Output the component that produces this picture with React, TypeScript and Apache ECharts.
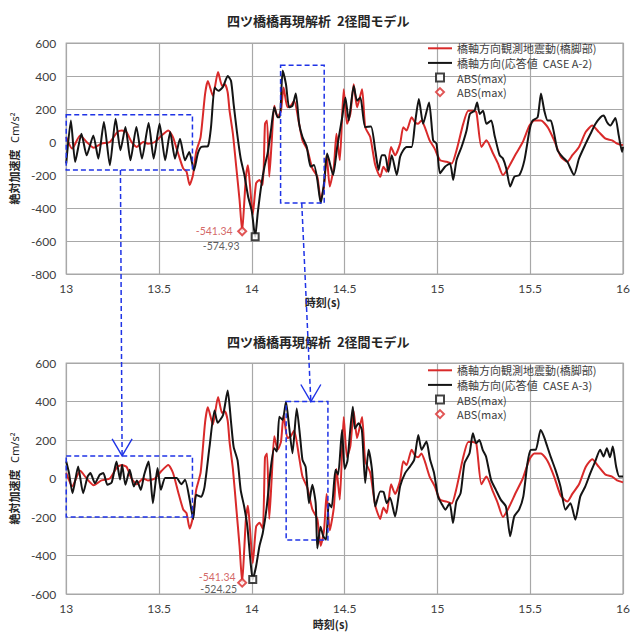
import { useEffect, useRef } from "react";
import * as echarts from "echarts";

// ---- labels -------------------------------------------------------------
const TITLE = "四ツ橋橋再現解析  2径間モデル";
const OBS_NAME = "橋軸方向観測地震動(橋脚部)";
const RESP_A2_NAME = "橋軸方向(応答値  CASE A-2)";
const RESP_A3_NAME = "橋軸方向(応答値  CASE A-3)";
const PEAK_TEXT = "ABS(max)";
const X_NAME = "時刻(s)";
const Y_NAME = "{a|絶対加速度}  {b|Cm/s²}";

// ---- axes ---------------------------------------------------------------
const X_MIN = 13;
const X_MAX = 16;
const X_STEP = 0.5;
const TOP_Y_RANGE = [-800, 600];
const BOTTOM_Y_RANGE = [-600, 600];
const Y_STEP = 200;

// ---- observed ground motion at the pier (same record in both panels) ----
const observedWave: [number, number][] = [
  [13.0, 30], [13.032, -40], [13.075, 40], [13.11, 0], [13.148, -35], [13.19, -10],
  [13.235, 0], [13.275, 60], [13.3, 70], [13.325, 60], [13.352, 0], [13.38, -30],
  [13.415, 0], [13.44, -10], [13.478, 0], [13.514, 40], [13.55, 70], [13.575, 30],
  [13.603, -70], [13.63, -160], [13.648, -180], [13.665, -260], [13.683, -200],
  [13.7, -60], [13.724, 30], [13.748, 290], [13.763, 370], [13.79, 280], [13.818, 424],
  [13.84, 340], [13.855, 350], [13.87, 300], [13.88, 190], [13.898, 50], [13.916, -150],
  [13.934, -353], [13.948, -541.34], [13.96, -353], [13.968, -212], [13.979, -141],
  [13.99, -260], [14.005, -440], [14.023, -250], [14.041, -230], [14.059, -260],
  [14.071, 110], [14.082, 130], [14.094, -210], [14.107, 0], [14.121, 220], [14.139, 150],
  [14.157, 190], [14.171, 330], [14.192, 210], [14.21, 220], [14.228, 250], [14.255, 110],
  [14.273, 10], [14.3, -50], [14.326, -160], [14.353, -210], [14.371, -350], [14.389, -270],
  [14.403, -80], [14.42, -270], [14.442, -150], [14.456, 50], [14.474, -110], [14.495, 320],
  [14.513, 110], [14.531, 170], [14.549, 350], [14.567, 210], [14.594, 320], [14.611, 90],
  [14.638, 30], [14.665, -140], [14.692, -210], [14.709, -150], [14.727, -180], [14.75, -30],
  [14.772, -80], [14.799, -10], [14.816, 90], [14.834, 70], [14.861, 150], [14.879, 120],
  [14.896, 110], [14.914, 130], [14.932, 90], [14.958, 10], [14.985, -40], [15.014, -110],
  [15.05, -120], [15.077, -130], [15.103, -50], [15.139, 110], [15.166, 190], [15.192, 190],
  [15.21, 180], [15.237, -30], [15.264, 10], [15.3, -70], [15.326, -130], [15.353, -200],
  [15.38, -160], [15.424, -70], [15.46, 0], [15.496, 100], [15.522, 130], [15.558, 130],
  [15.594, 90], [15.629, 10], [15.665, -90], [15.7, -120], [15.727, -80], [15.763, -30],
  [15.799, 60], [15.834, 100], [15.87, 60], [15.906, 20], [15.941, 10], [15.968, -10],
  [16.0, -20],
];

// ---- computed response, CASE A-2 ----------------------------------------
const responseA2: [number, number][] = [
  [13.0, -130], [13.025, 131], [13.048, -121], [13.082, 50], [13.11, -81], [13.146, 40],
  [13.173, -101], [13.203, 121], [13.235, -141], [13.266, 141], [13.292, -50], [13.319, 91],
  [13.346, -111], [13.378, 91], [13.408, -101], [13.444, 115], [13.471, -101], [13.503, 111],
  [13.533, -111], [13.56, 61], [13.586, -101], [13.613, 20], [13.64, -111], [13.663, -60],
  [13.688, -172], [13.709, -70], [13.727, -30], [13.763, -26], [13.78, 90], [13.8, 330],
  [13.82, 310], [13.845, 335], [13.87, 400], [13.888, 370], [13.902, 230], [13.92, 60],
  [13.94, -100], [13.96, -200], [13.98, -330], [14.0, -420], [14.018, -574.93], [14.032, -430],
  [14.05, -270], [14.068, -150], [14.085, -70], [14.103, 70], [14.121, 210], [14.139, 150],
  [14.151, 150], [14.166, 434], [14.184, 350], [14.201, 210], [14.219, 220], [14.237, 294],
  [14.255, 110], [14.273, 30], [14.296, -30], [14.317, -150], [14.335, -140], [14.353, -230],
  [14.371, -370], [14.389, -250], [14.406, -70], [14.438, -200], [14.46, -30], [14.487, 150],
  [14.504, 270], [14.522, 130], [14.549, 340], [14.567, 250], [14.585, 270], [14.611, 90],
  [14.642, 94], [14.665, -50], [14.683, -170], [14.7, -80], [14.718, -80], [14.736, -180],
  [14.754, -80], [14.781, -200], [14.799, -90], [14.816, -50], [14.834, -30], [14.861, -30],
  [14.879, 110], [14.9, 260], [14.923, 110], [14.955, 240], [14.977, 10], [14.995, -10],
  [15.014, -190], [15.041, -150], [15.068, -130], [15.085, -230], [15.103, -110], [15.13, -30],
  [15.157, 70], [15.175, 170], [15.2, 190], [15.214, 240], [15.228, 170], [15.246, 190],
  [15.264, 110], [15.29, 130], [15.308, 40], [15.335, -80], [15.353, -100], [15.371, -160],
  [15.392, -270], [15.415, -210], [15.442, -200], [15.469, -110], [15.496, 70], [15.513, 130],
  [15.54, 150], [15.558, 294], [15.576, 190], [15.594, 130], [15.611, 130], [15.629, 50],
  [15.647, -50], [15.674, -90], [15.7, -120], [15.736, -200], [15.763, -100], [15.799, -10],
  [15.825, 50], [15.852, 110], [15.879, 150], [15.896, 160], [15.914, 120], [15.932, 100],
  [15.959, 146], [15.977, 40], [15.995, -60], [16.0, -30],
];

// ---- computed response, CASE A-3 ----------------------------------------
const responseA3: [number, number][] = [
  [13.0, 88], [13.015, 28], [13.034, -76], [13.064, 62], [13.091, -76], [13.115, 10],
  [13.13, 28], [13.155, -25], [13.18, 19], [13.2, 28], [13.222, -33], [13.245, -20],
  [13.271, 88], [13.29, -5], [13.301, 71], [13.319, -33], [13.342, 45], [13.364, -41],
  [13.381, -10], [13.402, -59], [13.42, 20], [13.444, 88], [13.467, -128], [13.48, -30],
  [13.492, 54], [13.51, -59], [13.533, 2], [13.56, 2], [13.595, 2], [13.62, -30],
  [13.64, -7], [13.665, -110], [13.684, -210], [13.7, -85], [13.727, -95], [13.745, -45],
  [13.772, 164], [13.799, 353], [13.816, 290], [13.845, 330], [13.87, 457], [13.888, 293],
  [13.902, 164], [13.923, 95], [13.94, -60], [13.959, -147], [13.976, -250], [13.992, -422],
  [14.005, -524.25], [14.023, -456], [14.041, -352], [14.059, -283], [14.08, -150], [14.103, 62],
  [14.121, 157], [14.135, 140], [14.148, 321], [14.166, 304], [14.184, 399], [14.201, 269],
  [14.219, 131], [14.242, 364], [14.26, 218], [14.273, 97], [14.29, 60], [14.308, -128],
  [14.326, -33], [14.344, -128], [14.353, -363], [14.37, -250], [14.385, -300], [14.4, -318],
  [14.415, -130], [14.43, -150], [14.451, 45], [14.465, 20], [14.486, 252], [14.5, 50],
  [14.515, 90], [14.544, 373], [14.555, 260], [14.575, 287], [14.593, 252], [14.611, -24],
  [14.629, 149], [14.647, 50], [14.665, -145], [14.692, -67], [14.71, -70], [14.727, -128],
  [14.745, -100], [14.772, -197], [14.799, -41], [14.826, 28], [14.852, 62], [14.875, 97],
  [14.897, 226], [14.915, 149], [14.941, 192], [14.96, 100], [14.982, 28], [15.003, -93],
  [15.021, -128], [15.043, -162], [15.066, -128], [15.084, -231], [15.102, -120], [15.125, -76],
  [15.146, 79], [15.173, 131], [15.191, 235], [15.209, 183], [15.226, 200], [15.244, 149],
  [15.262, 114], [15.289, -7], [15.315, -59], [15.342, -111], [15.369, -145], [15.392, -300],
  [15.414, -197], [15.44, -162], [15.463, -93], [15.485, 79], [15.503, 149], [15.53, 150],
  [15.556, 252], [15.574, 218], [15.592, 166], [15.61, 114], [15.636, 45], [15.663, -41],
  [15.69, -162], [15.717, -128], [15.743, -214], [15.77, -93], [15.797, -41], [15.824, 28],
  [15.85, 88], [15.877, 149], [15.895, 114], [15.913, 157], [15.93, 110], [15.945, 166],
  [15.963, 62], [15.98, 10], [16.0, 10],
];

// ---- absolute maxima ----------------------------------------------------
const observedPeak: [number, number] = [13.948, -541.34];
const responseA2Peak: [number, number] = [14.018, -574.93];
const responseA3Peak: [number, number] = [14.005, -524.25];

// ---- highlighted windows [t0, t1, vLow, vHigh] and their links ------------
const topWindows: [number, number, number, number][] = [
  [13.0, 13.68, -170, 165],
  [14.155, 14.39, -370, 465],
];
const bottomWindows: [number, number, number, number][] = [
  [13.0, 13.68, -200, 117],
  [14.185, 14.41, -320, 400],
];
// [tTop, vTop] on the upper panel → [tBottom, vBottom] on the lower panel
const windowLinks: [[number, number], [number, number]][] = [
  [[13.292, -170], [13.301, 117]],
  [[14.269, -370], [14.318, 400]],
];

const RED = "#d92a2a";
const BLACK = "#141414";
const BLUE = "#1f33e6";
const GRID_GRAY = "#a8a8a8";
const TEXT_GRAY = "#404040";
const JP_FONT = "'Noto Sans CJK JP', sans-serif";
const NUM_FONT = "Lato, 'Noto Sans', sans-serif";

// legend glyphs: a plain stroke for the waves, small square / diamond for maxima
const LINE_ICON = "path://M0,0 H24 V2 H0 Z";
const SQUARE_ICON = "path://M0,0 H7 V7 H0 Z";
const DIAMOND_ICON = "path://M4,0 L8,4 L4,8 L0,4 Z";

const peakKey = (tag: string) => `${PEAK_TEXT}|${tag}`;

export default function App() {
  const ref = useRef<HTMLDivElement>(null);

  useEffect(() => {
    document.body.style.margin = "0";
    const chart = echarts.init(ref.current!, null, { renderer: "svg" });

    const grids = [
      { left: 62, top: 43, width: 561, height: 231 },
      { left: 62, top: 363, width: 561, height: 231 },
    ];

    const xAxis = (gridIndex: number, nameGap: number, shift: number) => ({
      gridIndex,
      type: "value",
      min: X_MIN,
      max: X_MAX,
      interval: X_STEP,
      axisLine: { show: false },
      axisTick: { show: false },
      splitLine: { show: true, lineStyle: { color: GRID_GRAY, width: 1.2 } },
      axisLabel: { color: TEXT_GRAY, fontSize: 12, fontFamily: NUM_FONT, margin: 8 },
      name: X_NAME,
      nameLocation: "middle",
      nameGap,
      nameTextStyle: {
        color: "#262626",
        fontSize: 11,
        fontWeight: "bold",
        fontFamily: JP_FONT,
        padding: [0, shift, 0, 0],
      },
    });

    const yAxis = (gridIndex: number, range: number[]) => ({
      gridIndex,
      type: "value",
      min: range[0],
      max: range[1],
      interval: Y_STEP,
      axisLine: { show: false },
      axisTick: { show: false },
      splitLine: { show: true, lineStyle: { color: GRID_GRAY, width: 1.2 } },
      axisLabel: { color: TEXT_GRAY, fontSize: 12, fontFamily: NUM_FONT, margin: 10 },
      name: Y_NAME,
      nameLocation: "middle",
      nameGap: 37,
      nameTextStyle: {
        rich: {
          a: { fontSize: 11, fontWeight: "bold", fontFamily: JP_FONT, color: "#262626" },
          b: { fontSize: 11, fontFamily: "'Noto Sans', sans-serif", color: "#262626" },
        },
      },
    });

    const waveSeries = (name: string, data: [number, number][], color: string, idx: number, z: number) => ({
      type: "line",
      name,
      xAxisIndex: idx,
      yAxisIndex: idx,
      data,
      symbol: "none",
      smooth: 0.2,
      lineStyle: { color, width: 2 },
      itemStyle: { color },
      z,
    });

    const peakSeries = (
      name: string,
      point: [number, number],
      symbol: string,
      color: string,
      labelColor: string,
      idx: number,
      offset: number[],
    ) => ({
      type: "scatter",
      name,
      xAxisIndex: idx,
      yAxisIndex: idx,
      data: [point],
      symbol,
      symbolSize: symbol === "rect" ? 7 : 8,
      itemStyle: { color: "#ffffff", borderColor: color, borderWidth: 2 },
      label: {
        show: true,
        position: "inside",
        offset,
        formatter: (p: any) => Number(p.value[1]).toFixed(2),
        color: labelColor,
        fontSize: 10.5,
        lineHeight: 11,
        fontFamily: NUM_FONT,
      },
      z: 6,
    });

    const legend = (top: number, respName: string, respKey: string) => ({
      orient: "vertical",
      left: 428,
      top,
      padding: 0,
      itemGap: 0,
      itemWidth: 24,
      itemHeight: 8,
      selectedMode: false,
      data: [
        { name: OBS_NAME, icon: LINE_ICON },
        { name: respName, icon: LINE_ICON },
        { name: respKey, icon: SQUARE_ICON },
        { name: peakKey("obs"), icon: DIAMOND_ICON },
      ],
      formatter: (name: string) => name.split("|")[0],
      textStyle: { color: TEXT_GRAY, fontSize: 11, lineHeight: 14.6, fontFamily: JP_FONT },
    });

    const titleStyle = { fontSize: 13, fontWeight: "bold", color: "#262626", fontFamily: JP_FONT };

    chart.setOption({
      animation: false,
      backgroundColor: "#ffffff",
      title: [
        { text: TITLE, left: 227, top: 14, padding: 0, textStyle: titleStyle },
        { text: TITLE, left: 227, top: 335, padding: 0, textStyle: titleStyle },
      ],
      legend: [
        legend(41, RESP_A2_NAME, peakKey("A-2")),
        legend(363, RESP_A3_NAME, peakKey("A-3")),
      ],
      grid: grids.map((g) => ({ ...g, show: true, borderColor: GRID_GRAY, borderWidth: 1.2 })),
      xAxis: [xAxis(0, 22, 44), xAxis(1, 24, 28)],
      yAxis: [yAxis(0, TOP_Y_RANGE), yAxis(1, BOTTOM_Y_RANGE)],
      series: [
        waveSeries(OBS_NAME, observedWave, RED, 0, 2),
        waveSeries(RESP_A2_NAME, responseA2, BLACK, 0, 3),
        peakSeries(peakKey("A-2"), responseA2Peak, "rect", BLACK, "#333333", 0, [-34, 9]),
        peakSeries(peakKey("obs"), observedPeak, "diamond", RED, "#c94040", 0, [-28, 0]),
        waveSeries(OBS_NAME, observedWave, RED, 1, 2),
        waveSeries(RESP_A3_NAME, responseA3, BLACK, 1, 3),
        peakSeries(peakKey("A-3"), responseA3Peak, "rect", BLACK, "#333333", 1, [-34, 10]),
        peakSeries(peakKey("obs"), observedPeak, "diamond", RED, "#c94040", 1, [-25, -6]),
      ],
    });

    // dashed windows, the links between panels and their arrow heads
    const toPx = (gridIndex: number, p: [number, number]) =>
      chart.convertToPixel({ gridIndex }, p) as unknown as number[];
    const dashed = { stroke: BLUE, lineWidth: 1.5, lineDash: [5, 3], fill: "none" };
    const graphics: any[] = [];
    const addWindows = (gridIndex: number, wins: [number, number, number, number][]) => {
      wins.forEach(([t0, t1, lo, hi]) => {
        const a = toPx(gridIndex, [t0, hi]);
        const b = toPx(gridIndex, [t1, lo]);
        graphics.push({
          type: "rect",
          z: 100,
          shape: { x: a[0], y: a[1], width: b[0] - a[0], height: b[1] - a[1] },
          style: { ...dashed },
        });
      });
    };
    addWindows(0, topWindows);
    addWindows(1, bottomWindows);
    windowLinks.forEach(([from, to]) => {
      const p = toPx(0, from);
      const q = toPx(1, to);
      graphics.push({
        type: "line",
        z: 100,
        shape: { x1: p[0], y1: p[1], x2: q[0], y2: q[1] },
        style: { ...dashed },
      });
      graphics.push({
        type: "polyline",
        z: 100,
        shape: { points: [[q[0] - 10, q[1] - 17], [q[0], q[1]], [q[0] + 10, q[1] - 17]] },
        style: { stroke: BLUE, lineWidth: 1.4, fill: "none" },
      });
    });
    chart.setOption({ graphic: graphics });

    return () => chart.dispose();
  }, []);

  return <div ref={ref} style={{ width: 642, height: 637 }} />;
}
